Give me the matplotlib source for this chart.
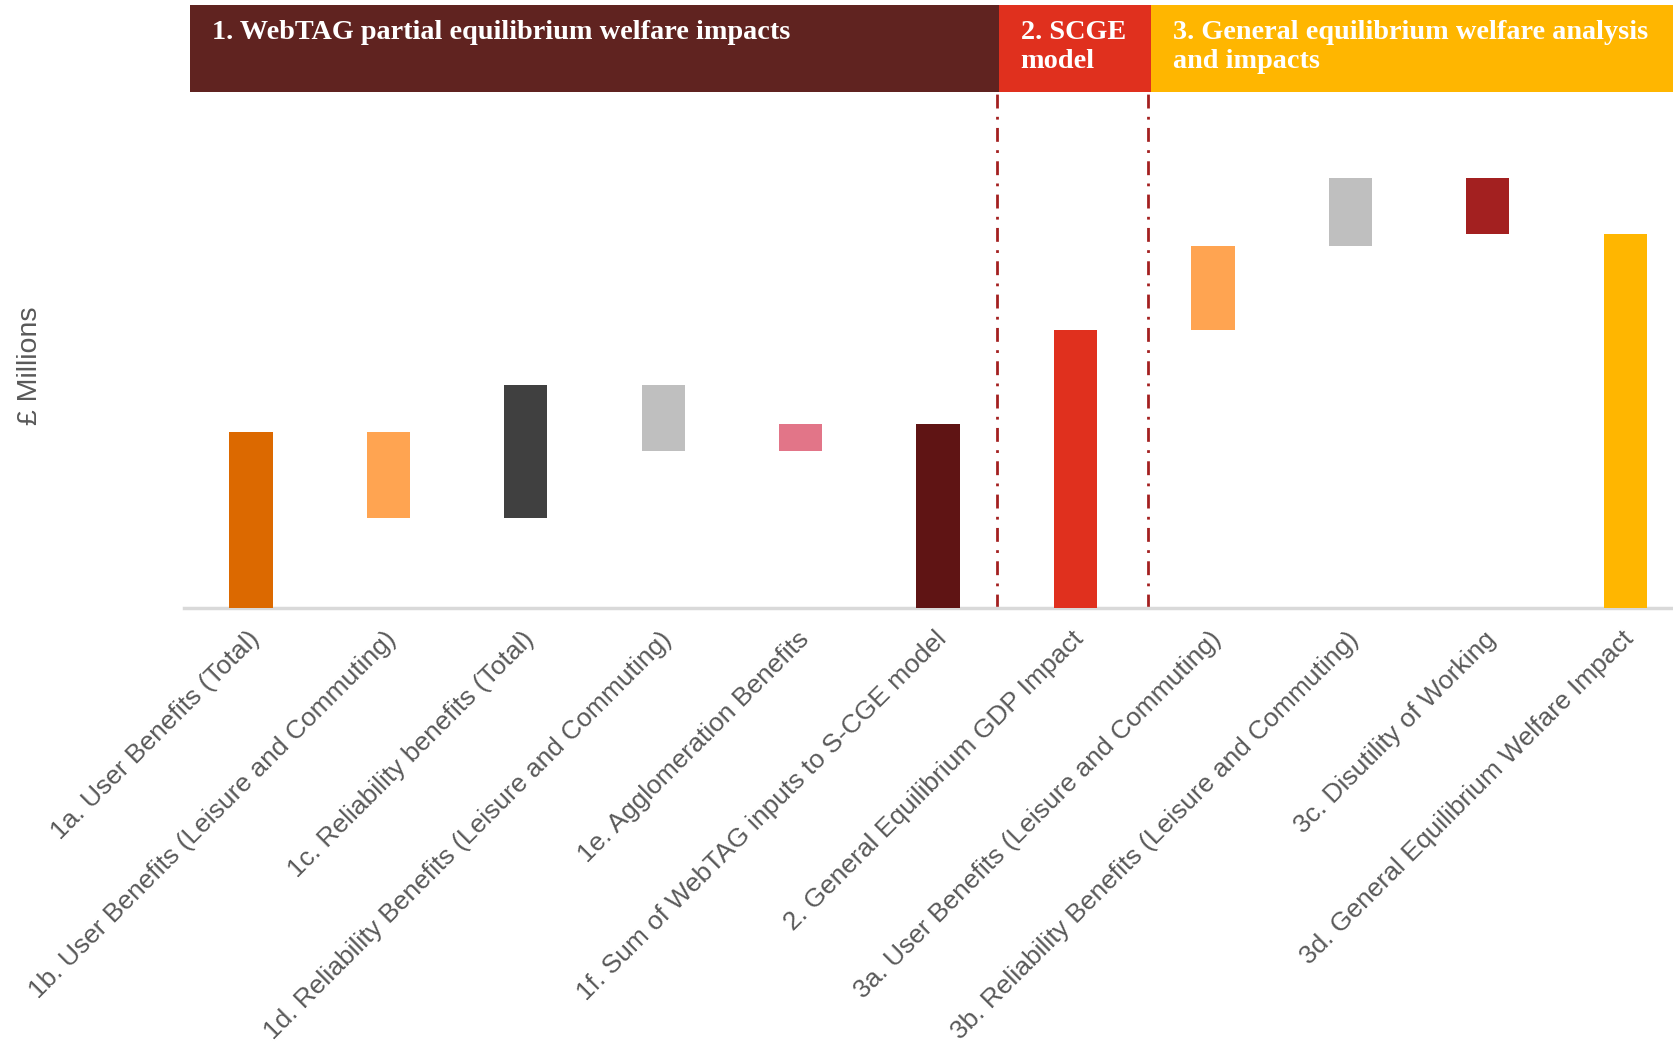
import matplotlib
matplotlib.use("Agg")
import matplotlib.pyplot as plt
import matplotlib.transforms as mtransforms
from matplotlib.patches import Rectangle

# ---- data (arbitrary £m units; waterfall start/end) ----
categories = [
    "1a. User Benefits (Total)",
    "1b. User Benefits (Leisure and Commuting)",
    "1c. Reliability benefits (Total)",
    "1d. Reliability Benefits (Leisure and Commuting)",
    "1e. Agglomeration Benefits",
    "1f. Sum of WebTAG inputs to S-CGE model",
    "2. General Equilibrium GDP Impact",
    "3a. User Benefits (Leisure and Commuting)",
    "3b. Reliability Benefits (Leisure and Commuting)",
    "3c. Disutility of Working",
    "3d. General Equilibrium Welfare Impact",
]
bar_start = [0, 164, 84, 208, 147, 0, 0, 260, 339, 402, 0]
bar_end = [164, 84, 208, 147, 172, 172, 260, 339, 402, 350, 350]
bar_colors = ["#DC6900", "#FFA451", "#404040", "#BFBFBF", "#E27588", "#5F1414",
              "#E0301E", "#FFA451", "#BFBFBF", "#A32020", "#FFB600"]

section_titles = ["1. WebTAG partial equilibrium welfare impacts",
                  "2. SCGE\nmodel",
                  "3. General equilibrium welfare analysis\nand impacts"]
section_colors = ["#602320", "#E0301E", "#FFB600"]
section_bounds = [-0.44, 5.44, 6.55, 10.40]
divider_x = [5.43, 6.525]

W, H = 1674, 1046
fig = plt.figure(figsize=(W / 100, H / 100), dpi=100)
ax_left = 183.6 / W
ax_bottom = 1 - 607.5 / H
ax_top = 1 - 5.3 / H
ax = fig.add_axes([ax_left, ax_bottom, 1 - ax_left, ax_top - ax_bottom])

x = list(range(len(categories)))
bottoms = [min(s, e) for s, e in zip(bar_start, bar_end)]
heights = [abs(e - s) for s, e in zip(bar_start, bar_end)]
ax.bar(x, heights, bottom=bottoms, width=0.315, color=bar_colors, zorder=3)

ymax = 564
ax.set_xlim(-0.49, 10.355)
ax.set_ylim(0, ymax)

# header boxes
head_bottom = (607.5 - 91.8) / 1.0676
for i, (t, c) in enumerate(zip(section_titles, section_colors)):
    x0, x1 = section_bounds[i], section_bounds[i + 1]
    ax.add_patch(Rectangle((x0, head_bottom), x1 - x0, ymax - head_bottom,
                           facecolor=c, edgecolor="none", zorder=2, clip_on=False))
    ax.text(x0 + 0.16, ymax - 14, t, color="white", fontsize=20.3,
            fontweight="bold", family="Liberation Serif", ha="left", va="top",
            linespacing=1.18, zorder=4)

for dx in divider_x:
    ax.plot([dx, dx], [0, head_bottom], color="#A32020", lw=2,
            linestyle=(0, (5, 3, 1, 3)), zorder=2)

# axes styling
for s in ["top", "right", "left"]:
    ax.spines[s].set_visible(False)
ax.spines["bottom"].set_color("#D9D9D9")
ax.spines["bottom"].set_linewidth(2.5)
ax.set_yticks([])
ax.set_xticks(x)
ax.set_xticklabels(categories, rotation=45, ha="right", rotation_mode="anchor",
                   fontsize=19, color="#595959", family="Liberation Sans")
ax.tick_params(axis="x", length=0, pad=14)
offset = mtransforms.ScaledTranslation(-4 / 100, 0, fig.dpi_scale_trans)
for lbl in ax.get_xticklabels():
    lbl.set_transform(lbl.get_transform() + offset)

fig.text(30 / W, 1 - 366 / H, "£ Millions", rotation=90, fontsize=20.5,
         color="#595959", family="Liberation Sans", ha="center", va="center")

fig.savefig("out.png", dpi=100, facecolor="white")
